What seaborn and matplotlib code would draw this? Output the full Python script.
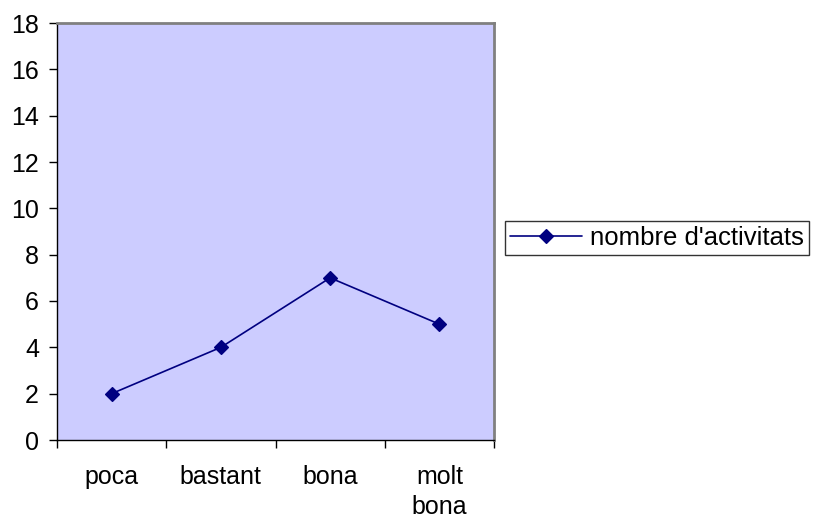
import matplotlib
matplotlib.use("Agg")
import matplotlib.pyplot as plt
import seaborn as sns

categories = ["poca", "bastant", "bona", "molt\nbona"]
values = [2, 4, 7, 5]
series_name = "nombre d'activitats"
y_ticks = [0, 2, 4, 6, 8, 10, 12, 14, 16, 18]

sns.set_theme(style="white")
plt.rcParams["font.family"] = ["Liberation Sans", "DejaVu Sans"]
plt.rcParams["text.color"] = "black"
plt.rcParams["xtick.color"] = "black"
plt.rcParams["ytick.color"] = "black"

fig = plt.figure(figsize=(8.16, 5.2), dpi=100)
ax = fig.add_axes([57 / 816, 80 / 520, 437 / 816, 417 / 520])
ax.set_facecolor("#CCCCFF")

sns.pointplot(x=categories, y=values, color="#000080", markers="D",
              markersize=7, linewidth=1.2, errorbar=None, ax=ax)

ax.set_ylim(0, 18)
ax.set_yticks(y_ticks)
ax.set_xlim(-0.5, len(categories) - 0.5)
ax.set_xticks([i - 0.5 for i in range(len(categories) + 1)], labels=[])
ax.set_xticks(range(len(categories)), labels=categories, minor=True)
ax.tick_params(axis="x", which="major", direction="out", length=6, width=1,
               color="black", bottom=True)
ax.tick_params(axis="x", which="minor", length=0, pad=18, labelsize=18,
               bottom=True)
ax.tick_params(axis="y", direction="out", length=6, width=1, color="black",
               pad=7, labelsize=18, left=True)
for lbl in ax.get_xticklabels(minor=True):
    lbl.set_linespacing(1.3)
ax.set_xlabel("")
ax.set_ylabel("")

for side in ["left", "bottom"]:
    ax.spines[side].set_color("black")
    ax.spines[side].set_linewidth(1)
for side in ["top", "right"]:
    ax.spines[side].set_color("#808080")
    ax.spines[side].set_linewidth(2)

handle = ax.lines[0]
leg = fig.legend([handle], [series_name], loc="center left",
                 bbox_to_anchor=(505 / 816, 282 / 520), fontsize=18.5,
                 frameon=True, fancybox=False, handlelength=2.8,
                 borderpad=0.2, handletextpad=0.3, borderaxespad=0)
leg.get_frame().set_edgecolor("black")
leg.get_frame().set_linewidth(1)

fig.savefig("out.png", dpi=100)
